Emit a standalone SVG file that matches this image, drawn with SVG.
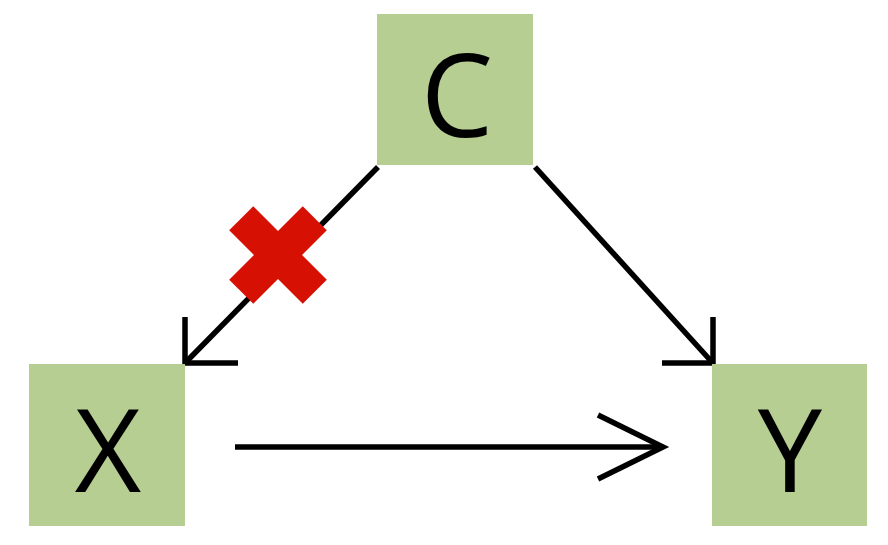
<svg xmlns="http://www.w3.org/2000/svg" width="888" height="545" viewBox="0 0 888 545">
<style>
.box{fill:#b6ce92;}
.lbl{font-family:"Open Sans","Noto Sans","Liberation Sans",sans-serif;font-size:115px;fill:#000;text-anchor:middle;}
.edge{fill:none;stroke:#000;stroke-width:5.5;stroke-linejoin:miter;}
.cross{fill:#d61104;}
</style>
<rect width="888" height="545" fill="#fff"/>
<g id="connectors">
<g id="c-x">
<line class="edge" x1="378" y1="167" x2="187" y2="361"/>
<polyline class="edge" points="185,317 185,363 238,363"/>
</g>
<g id="c-y">
<line class="edge" x1="535" y1="167" x2="711" y2="361"/>
<polyline class="edge" points="713,317 713,363 662,363"/>
</g>
<g id="x-y">
<line class="edge" x1="235" y1="447" x2="661" y2="447"/>
<polyline class="edge" points="598,415 663,447 598,479"/>
</g>
<g id="blocked" transform="translate(278,255)">
<rect class="cross" x="-52" y="-17" width="104" height="34" transform="rotate(45)"/>
<rect class="cross" x="-52" y="-17" width="104" height="34" transform="rotate(-45)"/>
</g>
</g>
<g id="node-C">
<rect class="box" x="377" y="14" width="156" height="151"/>
<text class="lbl" x="457" y="137">C</text>
</g>
<g id="node-X">
<rect class="box" x="29" y="364" width="156" height="162"/>
<text class="lbl" x="108" y="492">X</text>
</g>
<g id="node-Y">
<rect class="box" x="712" y="364" width="155" height="162"/>
<text class="lbl" x="790" y="492">Y</text>
</g>
</svg>
